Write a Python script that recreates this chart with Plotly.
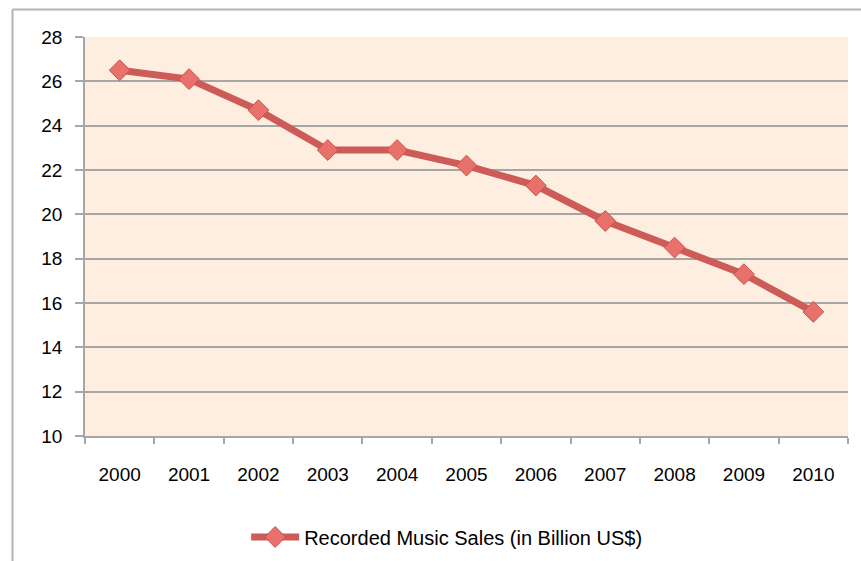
import plotly.graph_objects as go

years = ["2000", "2001", "2002", "2003", "2004", "2005", "2006", "2007", "2008", "2009", "2010"]
sales = [26.5, 26.1, 24.7, 22.9, 22.9, 22.2, 21.3, 19.7, 18.5, 17.3, 15.6]
series_name = "Recorded Music Sales (in Billion US$)"
y_ticks = [10, 12, 14, 16, 18, 20, 22, 24, 26, 28]

W, H = 861, 561
L, R, T, B = 85, 13, 37, 125
pw, ph = W - L - R, H - T - B

fig = go.Figure()
fig.add_trace(go.Scatter(
    x=years, y=sales, mode="lines+markers", name=series_name,
    line=dict(color="#cd5b57", width=7),
    marker=dict(symbol="diamond", size=16, color="#e8716c",
                line=dict(color="#c9504b", width=1)),
))

# outer chart border (top and left, as in the cropped reference)
bx = (12.5 - L) / pw
by = 1 + (T - 9.5) / ph
fig.add_shape(type="line", xref="paper", yref="paper", x0=bx, x1=(W - L) / pw + 0.01,
              y0=by, y1=by, line=dict(color="#b3b3b3", width=2))
fig.add_shape(type="line", xref="paper", yref="paper", x0=bx, x1=bx,
              y0=by, y1=-(B + 5) / ph, line=dict(color="#b3b3b3", width=2))

font_family = "Liberation Sans, Arial, sans-serif"
fig.update_layout(
    width=W, height=H,
    margin=dict(l=L, r=R, t=T, b=B, autoexpand=False),
    paper_bgcolor="white",
    plot_bgcolor="#fdeee0",
    font=dict(family=font_family, size=19, color="black"),
    showlegend=True,
    legend=dict(orientation="h", x=0.474, xanchor="center", y=-(537 - 436) / ph,
                yanchor="middle", font=dict(size=20), itemwidth=48,
                bgcolor="rgba(0,0,0,0)"),
    xaxis=dict(
        type="category", showgrid=False, showline=True, linecolor="#a6a6a6", linewidth=1.5,
        ticks="outside", tickson="boundaries", ticklen=6, tickcolor="#a6a6a6",
        tickwidth=1.5, ticklabelstandoff=20, tickfont=dict(size=19),
        range=[-0.5, len(years) - 0.5], automargin=False,
    ),
    yaxis=dict(
        range=[10, 28], tickvals=y_ticks, showgrid=True, gridcolor="#a6a6a6", gridwidth=1.5,
        showline=True, linecolor="#a6a6a6", linewidth=1.5, ticks="outside", ticklen=8,
        tickcolor="#a6a6a6", tickwidth=1.5, ticklabelstandoff=9, zeroline=False,
        tickfont=dict(size=19), automargin=False,
    ),
)

fig.write_html("out.html", config={"displayModeBar": False},
               post_script="document.body.style.margin='0';document.body.style.overflow='hidden';")
